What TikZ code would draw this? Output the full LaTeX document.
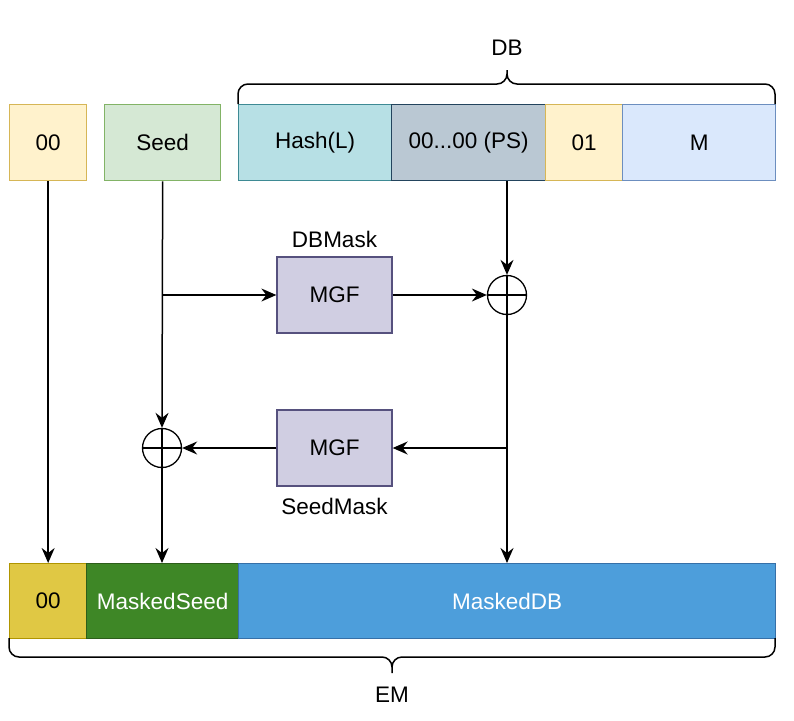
\documentclass[tikz,border=0pt]{standalone}
\usepackage{fontspec}
\setmainfont{Liberation Sans}
\usetikzlibrary{arrows.meta}
\definecolor{ylwF}{HTML}{FFF2CC}\definecolor{ylwD}{HTML}{D6B656}
\definecolor{grnF}{HTML}{D5E8D4}\definecolor{grnD}{HTML}{82B366}
\definecolor{tealF}{HTML}{B7E0E5}\definecolor{tealD}{HTML}{3E8A94}
\definecolor{gryF}{HTML}{BAC8D3}\definecolor{gryD}{HTML}{23445D}
\definecolor{bluF}{HTML}{DAE8FC}\definecolor{bluD}{HTML}{6C8EBF}
\definecolor{purF}{HTML}{D0CEE2}\definecolor{purD}{HTML}{56517E}
\definecolor{goldF}{HTML}{E0C844}\definecolor{goldD}{HTML}{B09500}
\definecolor{dgrF}{HTML}{3E8726}\definecolor{dgrD}{HTML}{2D5E1A}
\definecolor{mdbF}{HTML}{4D9EDB}\definecolor{mdbD}{HTML}{3670A8}
\begin{document}
\begin{tikzpicture}[x=1pt,y=-1pt,
  every node/.style={font=\fontsize{22.5}{27}\selectfont, inner sep=0pt},
  cell/.style={draw, line width=1.3pt, anchor=north west, minimum height=76pt},
  mgfbox/.style={draw=purD, fill=purF, line width=1.3pt, minimum width=115pt, minimum height=76pt},
  xorc/.style={circle, draw, line width=1.3pt, minimum size=39pt, path picture={
     \draw[line width=1.3pt] (path picture bounding box.north) -- (path picture bounding box.south)
       (path picture bounding box.west) -- (path picture bounding box.east);}},
  conn/.style={line width=1.5pt, -{Stealth[length=15pt,width=13pt,inset=5pt]}},
  brace/.style={line width=1.5pt}
]
\useasboundingbox (0,0) rectangle (794,720);
% top row
\node[cell, draw=ylwD, fill=ylwF, minimum width=77pt] (z0) at (9,104) {00};
\node[cell, draw=grnD, fill=grnF, minimum width=116pt] (seed) at (104,104) {Seed};
\node[cell, draw=tealD, fill=tealF, minimum width=153pt] (hash) at (238,104) {Hash(L)};
\node[cell, draw=gryD, fill=gryF, minimum width=154pt] (ps) at (391,104) {00...00 (PS)};
\node[cell, draw=ylwD, fill=ylwF, minimum width=77pt] (one) at (545,104) {01};
\node[cell, draw=bluD, fill=bluF, minimum width=153pt] (m) at (622,104) {M};
% DB brace
\draw[brace] (238,104) -- (238,94) to[out=90,in=180] (248,84) -- (497,84)
  to[out=0,in=270] (507,74) -- (507,70);
\draw[brace] (507,74) to[out=270,in=180] (517,84) -- (765,84) to[out=0,in=90] (775,94) -- (775,104);
\node (dbl) at (507,48) {DB};
% MGF boxes
\node[mgfbox] (mgf1) at (334.5,295) {MGF};
\node (dbm) at (334.5,239) {DBMask};
\node[mgfbox] (mgf2) at (334.5,448) {MGF};
\node (sdm) at (334.5,506) {SeedMask};
% xors
\node[xorc] (x1) at (507,295) {};
\node[xorc] (x2) at (162,448) {};
% bottom row
\node[cell, draw=goldD, fill=goldF, minimum width=77pt, minimum height=75pt] (b0) at (9,563) {00};
\node[cell, draw=dgrD, fill=dgrF, minimum width=152pt, minimum height=75pt, text=white] (ms) at (86,563) {MaskedSeed};
\node[cell, draw=mdbD, fill=mdbF, minimum width=537pt, minimum height=75pt, text=white] (mdb) at (238,563) {MaskedDB};
% EM brace
\draw[brace] (9,638) -- (9,647) to[out=270,in=180] (19,657) -- (382,657)
  to[out=0,in=90] (392,667) -- (392,673);
\draw[brace] (392,667) to[out=90,in=180] (402,657) -- (765,657) to[out=0,in=270] (775,647) -- (775,638);
\node (eml) at (392,695) {EM};
% connectors
\coordinate (b1) at (seed.south |- mgf1.west);
\coordinate (b2) at (x1.center |- mgf2.east);
\draw[conn] (z0.south) -- (z0.south |- b0.north);
\draw[conn] (seed.south) -- (x2.north);
\draw[conn] (b1) -- (mgf1.west);
\draw[conn] (mgf1.east) -- (x1.west);
\draw[conn] (x1.north |- ps.south) -- (x1.north);
\draw[conn] (x1.south) -- (x1.south |- mdb.north);
\draw[conn] (b2) -- (mgf2.east);
\draw[conn] (mgf2.west) -- (x2.east);
\draw[conn] (x2.south) -- (x2.south |- ms.north);
\end{tikzpicture}
\end{document}
